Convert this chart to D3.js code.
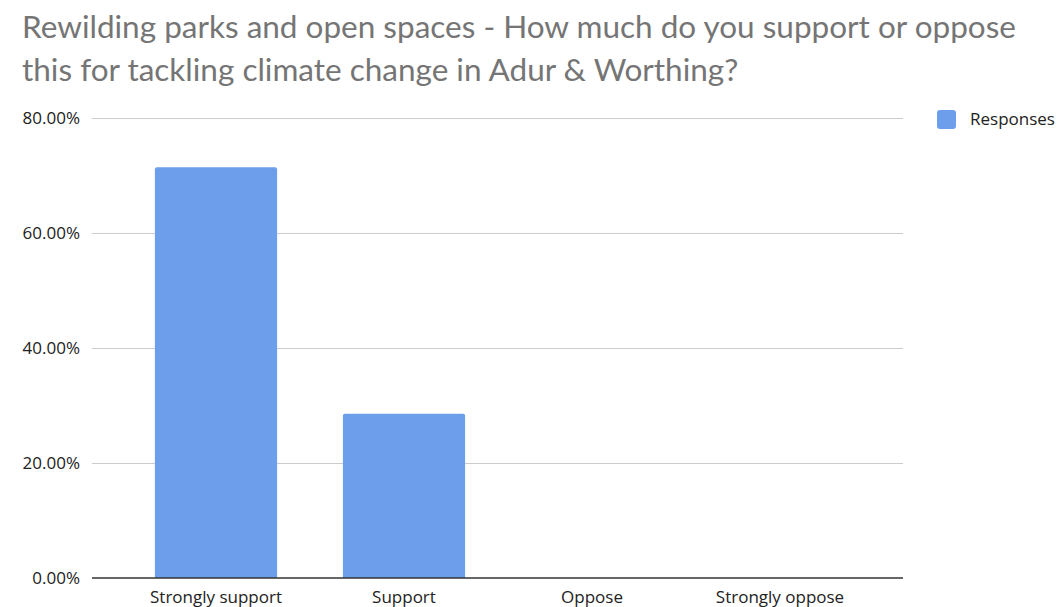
<!DOCTYPE html>
<html>
<head>
<meta charset="utf-8">
<script src="https://cdn.jsdelivr.net/npm/d3@7"></script>
<style>
  html, body { margin: 0; padding: 0; background: #fff; }
  svg { display: block; }
</style>
</head>
<body>
<script>
// Survey answers and share of responses (%)
const categories = ["Strongly support", "Support", "Oppose", "Strongly oppose"];
const responses = [71.43, 28.57, 0, 0];
const yTicks = [0, 20, 40, 60, 80];
const titleLines = [
  "Rewilding parks and open spaces - How much do you support or oppose",
  "this for tackling climate change in Adur & Worthing?"
];
const seriesName = "Responses";

const W = 1057, H = 607;
const titleFont = "Lato, sans-serif";
const font = "'Open Sans', sans-serif";
const svg = d3.select("body").append("svg").attr("width", W).attr("height", H);

// Title
svg.append("g").selectAll("text").data(titleLines).join("text")
  .attr("x", 22)
  .attr("y", (d, i) => 38 + i * 43)
  .attr("fill", "#757575")
  .attr("font-family", titleFont)
  .attr("font-size", 31.5)
  .text(d => d);

const plot = { left: 92, right: 903, top: 118, bottom: 578 };

const y = d3.scaleLinear().domain([0, 80]).range([plot.bottom, plot.top]);
const x = d3.scaleBand().domain(categories).range([122, 874])
  .paddingInner(0.35).paddingOuter(0.175);

// Gridlines
svg.append("g").selectAll("line").data(yTicks.filter(t => t > 0)).join("line")
  .attr("x1", plot.left).attr("x2", plot.right)
  .attr("y1", d => y(d) + 0.5).attr("y2", d => y(d) + 0.5)
  .attr("stroke", "#cccccc").attr("stroke-width", 1);

// Y labels
svg.append("g").selectAll("text").data(yTicks).join("text")
  .attr("x", 80).attr("y", d => y(d) + 6)
  .attr("text-anchor", "end")
  .attr("fill", "#222")
  .attr("font-family", font)
  .attr("font-size", 17)
  .text(d => d3.format(".2f")(d) + "%");

// Bars with slightly rounded tops
const r = 2;
svg.append("g").selectAll("path").data(categories.map((c, i) => ({ c, v: responses[i] })).filter(d => d.v > 0))
  .join("path")
  .attr("fill", "#6d9eeb")
  .attr("d", d => {
    const x0 = x(d.c), x1 = x0 + x.bandwidth(), y0 = y(0), y1 = y(d.v);
    return `M${x0},${y0}V${y1 + r}Q${x0},${y1} ${x0 + r},${y1}H${x1 - r}Q${x1},${y1} ${x1},${y1 + r}V${y0}Z`;
  });

// Baseline
svg.append("line")
  .attr("x1", plot.left).attr("x2", plot.right)
  .attr("y1", y(0)).attr("y2", y(0))
  .attr("stroke", "#333").attr("stroke-width", 1.5);

// Category labels
svg.append("g").selectAll("text").data(categories).join("text")
  .attr("x", d => x(d) + x.bandwidth() / 2)
  .attr("y", 603)
  .attr("text-anchor", "middle")
  .attr("fill", "#222")
  .attr("font-family", font)
  .attr("font-size", 17)
  .text(d => d);

// Legend
const lg = svg.append("g").attr("transform", "translate(937,110)");
lg.append("rect").attr("width", 19).attr("height", 19).attr("rx", 3)
  .attr("fill", "#6d9eeb");
lg.append("text").attr("x", 33).attr("y", 15)
  .attr("fill", "#222").attr("font-family", font).attr("font-size", 17)
  .text(seriesName);
</script>
</body>
</html>
